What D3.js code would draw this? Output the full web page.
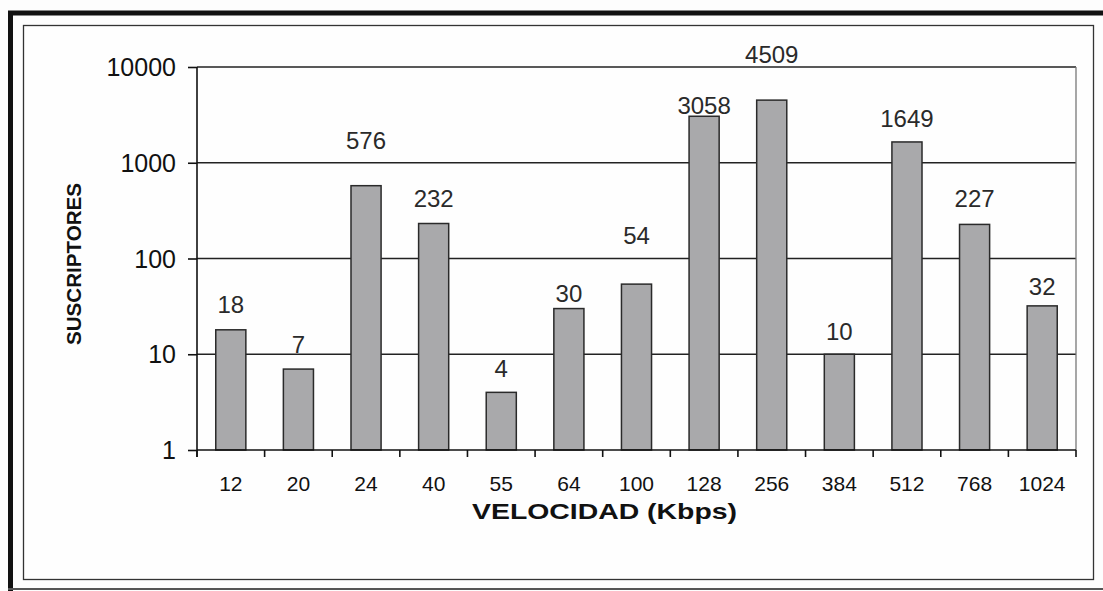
<!DOCTYPE html>
<html>
<head>
<meta charset="utf-8">
<script src="https://cdn.jsdelivr.net/npm/d3@7"></script>
<style>
  html, body { margin: 0; padding: 0; background: #fdfdfd; }
  svg { display: block; }
  text { font-family: "Liberation Sans", Arial, Helvetica, sans-serif; }
</style>
</head>
<body>
<svg id="chart" width="1103" height="591"></svg>
<script>
// Subscribers per connection speed (Kbps)
const speeds = ["12", "20", "24", "40", "55", "64", "100", "128", "256", "384", "512", "768", "1024"];
const subscribers = [18, 7, 576, 232, 4, 30, 54, 3058, 4509, 10, 1649, 227, 32];
const yTicks = [1, 10, 100, 1000, 10000];

// Gap (px) between each bar top and the baseline of its value label
const labelGap = [17, 16, 37, 17, 15, 7, 40, 2, 37, 14, 15, 17, 11];

const W = 1103, H = 591;
const plot = { left: 197, right: 1076, top: 67, bottom: 450 };

const svg = d3.select("#chart");

// Frame: heavy outer rule, then thin inner box
svg.append("rect").attr("x", 0).attr("y", 0).attr("width", W).attr("height", H).attr("fill", "#fdfdfd");
svg.append("line").attr("x1", 8).attr("x2", W).attr("y1", 13).attr("y2", 13)
  .attr("stroke", "#111").attr("stroke-width", 5);
svg.append("line").attr("x1", 10.5).attr("x2", 10.5).attr("y1", 11).attr("y2", 591)
  .attr("stroke", "#111").attr("stroke-width", 5);
svg.append("line").attr("x1", 8).attr("x2", W).attr("y1", 589).attr("y2", 589)
  .attr("stroke", "#555").attr("stroke-width", 2);
svg.append("rect").attr("x", 23.5).attr("y", 25.5).attr("width", 1070).attr("height", 554)
  .attr("fill", "#fefefe").attr("stroke", "#333").attr("stroke-width", 1.3);

const x = d3.scaleBand()
  .domain(speeds)
  .range([plot.left, plot.right])
  .paddingInner(0.555)
  .paddingOuter(0.2775);

const y = d3.scaleLog()
  .domain([1, 10000])
  .range([plot.bottom, plot.top]);

// Horizontal gridlines at each decade
svg.append("g").selectAll("line").data(yTicks.slice(1)).join("line")
  .attr("x1", plot.left).attr("x2", plot.right)
  .attr("y1", d => y(d)).attr("y2", d => y(d))
  .attr("stroke", "#222").attr("stroke-width", 1.4);

// Plot-area right edge
svg.append("line").attr("x1", plot.right).attr("x2", plot.right)
  .attr("y1", plot.top).attr("y2", plot.bottom)
  .attr("stroke", "#777").attr("stroke-width", 1.3);

// Bars
svg.append("g").selectAll("rect").data(speeds).join("rect")
  .attr("x", d => x(d))
  .attr("width", x.bandwidth())
  .attr("y", (d, i) => y(subscribers[i]))
  .attr("height", (d, i) => y(1) - y(subscribers[i]))
  .attr("fill", "#a9a9ab")
  .attr("stroke", "#2a2a2a")
  .attr("stroke-width", 1.5);

// Value labels
svg.append("g").selectAll("text").data(speeds).join("text")
  .attr("x", d => x(d) + x.bandwidth() / 2)
  .attr("y", (d, i) => y(subscribers[i]) - labelGap[i])
  .attr("text-anchor", "middle")
  .attr("font-size", 24)
  .attr("fill", "#2a2a2a")
  .text((d, i) => subscribers[i]);

// Y axis
const yAxis = d3.axisLeft(y)
  .tickValues(yTicks)
  .tickFormat(d3.format("d"))
  .tickSize(9)
  .tickPadding(12);
const gy = svg.append("g").attr("transform", `translate(${plot.left},0)`).call(yAxis);
gy.select(".domain").attr("stroke", "#111").attr("stroke-width", 1.6)
  .attr("d", `M0,${plot.top}V${plot.bottom + 7}`);
gy.selectAll(".tick line").attr("stroke", "#111").attr("stroke-width", 1.6);
gy.selectAll(".tick text").attr("font-size", 25).attr("fill", "#111")
  .attr("dy", "0.34em")
  .style("font-family", "'Liberation Sans', Arial, sans-serif");

// X axis: ticks at the category boundaries
const gx = svg.append("g").attr("transform", `translate(0,${plot.bottom})`);
gx.append("line").attr("x1", plot.left).attr("x2", plot.right).attr("y1", 0).attr("y2", 0)
  .attr("stroke", "#111").attr("stroke-width", 1.6);
const step = x.step();
gx.selectAll("line.tick").data(d3.range(speeds.length + 1)).join("line")
  .attr("class", "tick")
  .attr("x1", i => plot.left + i * step).attr("x2", i => plot.left + i * step)
  .attr("y1", 0).attr("y2", 7)
  .attr("stroke", "#111").attr("stroke-width", 1.6);
gx.selectAll("text").data(speeds).join("text")
  .attr("x", d => x(d) + x.bandwidth() / 2)
  .attr("y", 41)
  .attr("text-anchor", "middle")
  .attr("font-size", 21)
  .attr("fill", "#111")
  .text(d => d);

// Axis titles
svg.append("text")
  .attr("x", 472).attr("y", 519)
  .attr("font-size", 22).attr("font-weight", "bold").attr("fill", "#111")
  .attr("textLength", 265).attr("lengthAdjust", "spacingAndGlyphs")
  .text("VELOCIDAD (Kbps)");

svg.append("text")
  .attr("transform", "translate(81,345) rotate(-90)")
  .attr("font-size", 20).attr("font-weight", "bold").attr("fill", "#111")
  .attr("textLength", 162).attr("lengthAdjust", "spacingAndGlyphs")
  .text("SUSCRIPTORES");
</script>
</body>
</html>
